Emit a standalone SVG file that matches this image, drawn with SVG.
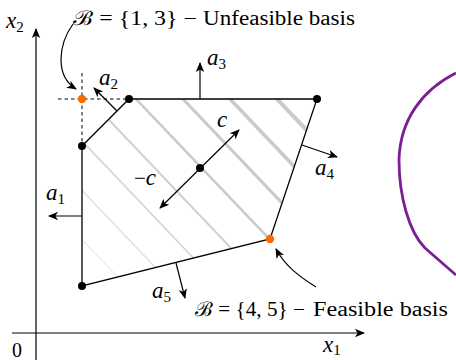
<svg xmlns="http://www.w3.org/2000/svg" width="456" height="360" viewBox="0 0 456 360">
<style>
.ax{stroke:#000;stroke-width:1.2;fill:none}
.edge{stroke:#000;stroke-width:1.3;fill:none}
.nrm{stroke:#000;stroke-width:1.2;fill:none;marker-end:url(#ah)}
.dash{stroke:#000;stroke-width:1;stroke-dasharray:3.5 3;fill:none}
.h{stroke:#cacaca;fill:none}
.dot{fill:#000}
.or{fill:#ff6a00}
</style>
<defs>
<marker id="ah" markerUnits="userSpaceOnUse" markerWidth="10" markerHeight="10" viewBox="0 0 10 10" refX="9" refY="5" orient="auto-start-reverse">
<path d="M10,5 L0,0.8 L2.6,5 L0,9.2 Z" fill="#000"/>
</marker>
<clipPath id="poly"><path d="M82,146 L129,99 L317,99 L270,239 L82,286 Z"/></clipPath>
</defs>
<rect width="456" height="360" fill="#fff"/>

<g id="hatching" clip-path="url(#poly)">
<line class="h" x1="77" y1="-111" x2="477" y2="309" stroke-width="4"/>
<line class="h" x1="30" y1="-111" x2="430" y2="309" stroke-width="3.5"/>
<line class="h" x1="-17" y1="-111" x2="383" y2="309" stroke-width="3"/>
<line class="h" x1="-64" y1="-111" x2="336" y2="309" stroke-width="2.5"/>
<line class="h" x1="-111" y1="-111" x2="289" y2="309" stroke-width="2" opacity="0.9"/>
<line class="h" x1="-158" y1="-111" x2="242" y2="309" stroke-width="1.6" opacity="0.8"/>
<line class="h" x1="-205" y1="-111" x2="195" y2="309" stroke-width="1.2" opacity="0.7"/>
<line class="h" x1="-252" y1="-111" x2="148" y2="309" stroke-width="1" opacity="0.6"/>
</g>

<g id="axes">
<line class="ax" x1="36" y1="360" x2="36" y2="29" marker-end="url(#ah)"/>
<line class="ax" x1="12" y1="333" x2="364" y2="333" marker-end="url(#ah)"/>
</g>

<g id="polygon">
<path class="edge" d="M82,146 L129,99 L317,99 L270,239 L82,286 Z"/>
</g>

<g id="dashes">
<line class="dash" x1="58" y1="99" x2="129" y2="99"/>
<line class="dash" x1="82" y1="73" x2="82" y2="146"/>
</g>

<g id="connectors">
<line class="nrm" x1="82" y1="216" x2="49" y2="216"/>
<line class="nrm" x1="117" y1="111" x2="94" y2="88"/>
<line class="nrm" x1="200" y1="99" x2="200" y2="63"/>
<line class="nrm" x1="302" y1="145" x2="337" y2="157"/>
<line class="nrm" x1="176" y1="263" x2="185" y2="298"/>
<line class="ax" x1="160" y1="208" x2="239" y2="130" marker-start="url(#ah)" marker-end="url(#ah)"/>
<path class="ax" d="M73,24 C58,45 55,76 76,89" marker-end="url(#ah)"/>
<path class="ax" d="M316,287 C300,277 285,266 276,249" marker-end="url(#ah)"/>
</g>

<g id="vertices">
<circle id="vA" class="dot" cx="82" cy="146" r="4"/>
<circle id="vB" class="dot" cx="129" cy="99" r="4"/>
<circle id="vC" class="dot" cx="317" cy="99" r="4"/>
<circle id="vE" class="dot" cx="82" cy="286" r="4"/>
<circle id="center" class="dot" cx="200" cy="168" r="4"/>
<circle id="vD" class="or" cx="270" cy="239" r="4.2"/>
<circle id="vU" class="or" cx="82" cy="99" r="4.2"/>
</g>

<g id="labels" font-family="Liberation Serif, serif" fill="#000">
<text x="6" y="28" font-size="23" font-style="italic">x<tspan font-size="15" font-style="normal" dy="4">2</tspan></text>
<text x="323" y="352" font-size="23" font-style="italic">x<tspan font-size="15" font-style="normal" dy="3">1</tspan></text>
<text x="12" y="357" font-size="20">0</text>
<text x="46" y="200" font-size="23" font-style="italic">a<tspan font-size="15" font-style="normal" dy="4">1</tspan></text>
<text x="99" y="85" font-size="23" font-style="italic">a<tspan font-size="15" font-style="normal" dy="4">2</tspan></text>
<text x="207" y="65" font-size="23" font-style="italic">a<tspan font-size="15" font-style="normal" dy="4">3</tspan></text>
<text x="315" y="175" font-size="23" font-style="italic">a<tspan font-size="15" font-style="normal" dy="4">4</tspan></text>
<text x="152" y="298" font-size="23" font-style="italic">a<tspan font-size="15" font-style="normal" dy="4">5</tspan></text>
<text x="217" y="127" font-size="23" font-style="italic">c</text>
<text x="134" y="185" font-size="21">−<tspan font-style="italic" font-size="23">c</tspan></text>
</g>

<g id="basis-unfeasible" font-family="Liberation Serif, serif" font-size="20" fill="#000">
<text x="73" y="25" textLength="124" lengthAdjust="spacingAndGlyphs">ℬ = {1, 3} −</text>
<text x="203" y="25" textLength="152" lengthAdjust="spacingAndGlyphs">Unfeasible basis</text>
</g>
<g id="basis-feasible" font-family="Liberation Serif, serif" font-size="20" fill="#000">
<text x="195" y="316" textLength="110" lengthAdjust="spacingAndGlyphs">ℬ = {4, 5} −</text>
<text x="313" y="316" textLength="135" lengthAdjust="spacingAndGlyphs">Feasible basis</text>
</g>

<g id="curve">
<path d="M456,73 C422,90 400,120 399,160 C399,196 409,232 425,248 L456,275" stroke="#7b1f94" stroke-width="2.8" fill="none"/>
</g>
</svg>
